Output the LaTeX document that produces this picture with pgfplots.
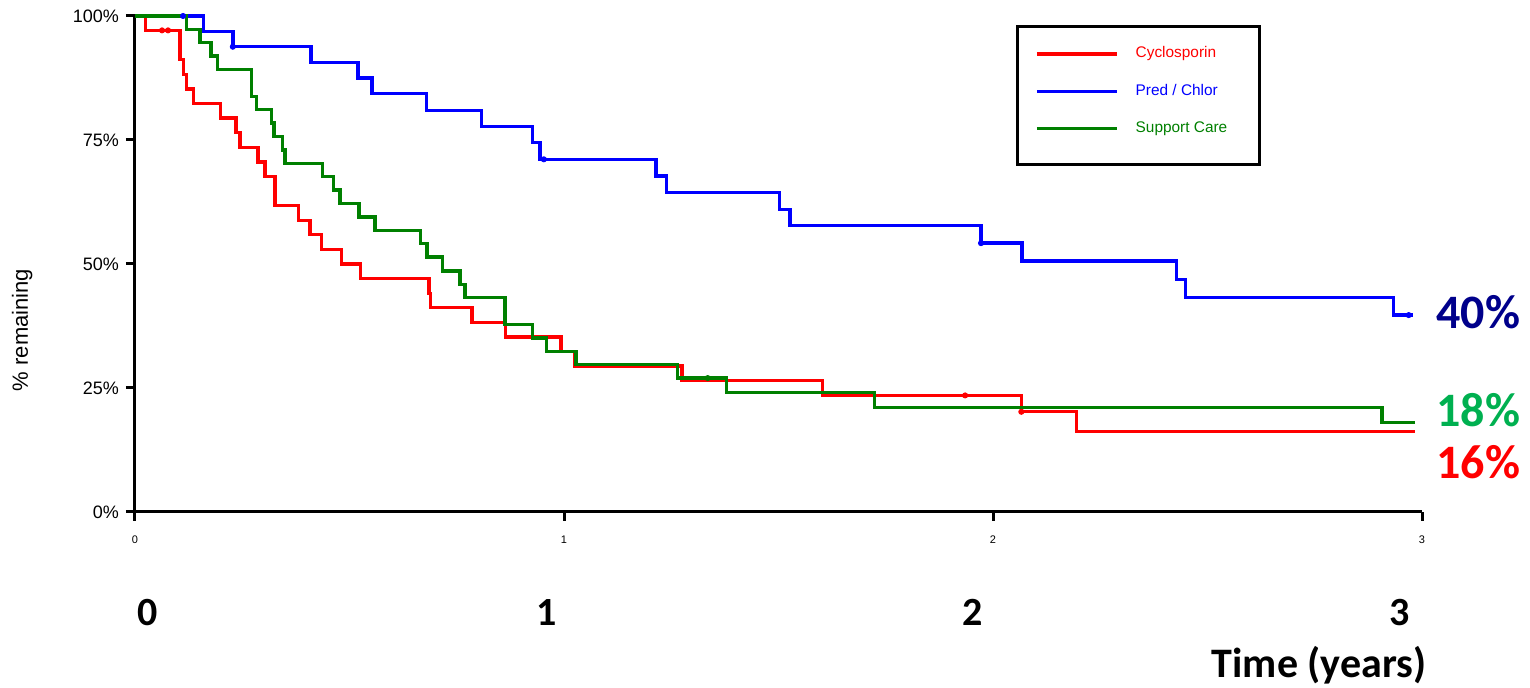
\documentclass[border=0pt]{standalone}
\usepackage{pgfplots}
\pgfplotsset{compat=1.18}
\usepackage{fontspec}
\setmainfont{Liberation Sans}
\newfontfamily\calibri{Carlito}
\definecolor{kmRed}{HTML}{FF0000}
\definecolor{kmBlue}{HTML}{0000FF}
\definecolor{kmGreen}{HTML}{008000}
\definecolor{lblBlue}{HTML}{00008B}
\definecolor{lblGreen}{HTML}{00B050}

\begin{document}
\begin{tikzpicture}
% page = 1530 x 688 px at 0.5pt per px
\useasboundingbox (-67.5pt,-88pt) rectangle (697.5pt,256pt);
\begin{axis}[
  at={(0pt,0pt)}, anchor=south west,
  scale only axis,
  width=643.5pt, height=248pt,
  xmin=0, xmax=3, ymin=0, ymax=100,
  clip=false,
  axis x line*=bottom, axis y line*=left,
  axis line style={line width=1.5pt, -},
  tick align=outside, tick pos=left,
  major tick length=4.5pt,
  tick style={line width=1.5pt, black},
  xtick={0,1,2,3}, xticklabels={0,1,2,3},
  ytick={0,25,50,75,100},
  yticklabels={0\%,25\%,50\%,75\%,100\%},
  /pgf/number format/assume math mode=true,
  yticklabel style={font=\fontsize{9}{10}\selectfont},
  xticklabel style={font=\fontsize{5.5}{6}\selectfont, yshift=-4pt},
  legend image code/.code={\draw[#1] (0pt,0pt) -- (40pt,0pt);},
  legend style={at={(axis cs:2.058,97.8)}, anchor=north west,
    draw=none, fill=none,
    inner xsep=8.5pt, inner ysep=9.5pt, row sep=11.25pt, column sep=8.5pt,
    font=\fontsize{7.7}{9}\selectfont,
    nodes={inner sep=0pt, text height=5.8pt, text depth=1.7pt},
    cells={anchor=west}},
]
% legend frame (taller at the bottom than the entries need)
\draw[line width=1.5pt, fill=white] (axis cs:2.058,97.8) rectangle (axis cs:2.622,69.96);
% Cyclosporin
\addplot[const plot, kmRed, line width=1.7pt] coordinates {
  (0,100) (0.025,97.1) (0.105,91.2) (0.113,88.2) (0.120,85.3) (0.136,82.4)
  (0.200,79.4) (0.235,76.5) (0.245,73.5) (0.287,70.6) (0.303,67.6)
  (0.326,61.8) (0.381,58.8) (0.408,55.9) (0.435,52.9) (0.482,50.0)
  (0.526,47.1) (0.685,44.1) (0.689,41.2) (0.786,38.2) (0.864,35.3)
  (0.993,32.4) (1.026,29.4) (1.275,26.5) (1.603,23.5) (2.066,20.2)
  (2.194,16.2) (2.984,16.2)};
\addlegendentry{\textcolor{kmRed}{Cyclosporin}}
% Pred / Chlor
\addplot[const plot, kmBlue, line width=1.7pt] coordinates {
  (0,100) (0.159,96.9) (0.228,93.8) (0.410,90.6) (0.520,87.5) (0.552,84.4)
  (0.680,81.0) (0.808,77.7) (0.927,74.5) (0.944,71.1) (1.214,67.7)
  (1.239,64.4) (1.503,61.0) (1.527,57.7) (1.972,54.2) (2.068,50.6)
  (2.428,46.9) (2.448,43.3) (2.933,39.7) (2.979,39.7)};
\addlegendentry{\textcolor{kmBlue}{Pred / Chlor}}
% Support Care
\addplot[const plot, kmGreen, line width=1.7pt] coordinates {
  (0,100) (0.1205,97.3) (0.1515,94.6) (0.1772,91.9) (0.1919,89.2)
  (0.272,83.8) (0.2836,81.1) (0.3186,78.4) (0.324,75.7) (0.3442,73.0)
  (0.3497,70.3) (0.4366,67.6) (0.4623,64.9) (0.4779,62.2) (0.5221,59.5)
  (0.5594,56.8) (0.6655,54.1) (0.6811,51.4) (0.7161,48.6) (0.7575,45.9)
  (0.7692,43.2) (0.8625,37.8) (0.9261,35.1) (0.9597,32.4) (1.028,29.7)
  (1.2642,27.0) (1.3793,24.1) (1.7233,21.1) (2.9068,18.1) (2.984,18.1)};
\addlegendentry{\textcolor{kmGreen}{Support Care}\hspace*{9.7pt}}
% censored observations
\addplot[only marks, mark=*, mark size=1.3pt, kmRed, forget plot] coordinates {
  (0.063,97.1) (0.077,97.1) (1.935,23.5) (2.066,20.2)};
\addplot[only marks, mark=*, mark size=1.3pt, kmBlue, forget plot] coordinates {
  (0.112,100) (0.228,93.8) (0.953,71.1) (1.972,54.2) (2.969,39.7)};
\addplot[only marks, mark=*, mark size=1.3pt, kmGreen, forget plot] coordinates {
  (1.335,27.0)};

% end-of-follow-up percentages
\node[font=\calibri\bfseries\fontsize{24}{28}\selectfont, text=lblBlue]
  at (axis cs:3.131,40.3) {40\%};
\node[font=\calibri\bfseries\fontsize{24}{28}\selectfont, text=lblGreen]
  at (axis cs:3.131,20.6) {18\%};
\node[font=\calibri\bfseries\fontsize{24}{28}\selectfont, text=kmRed]
  at (axis cs:3.131,10.1) {16\%};

% large axis annotations
\node[font=\calibri\bfseries\fontsize{20}{24}\selectfont]
  at (axis cs:0.030,-20.2) {0};
\node[font=\calibri\bfseries\fontsize{20}{24}\selectfont]
  at (axis cs:0.960,-20.2) {1};
\node[font=\calibri\bfseries\fontsize{20}{24}\selectfont]
  at (axis cs:1.953,-20.2) {2};
\node[font=\calibri\bfseries\fontsize{20}{24}\selectfont]
  at (axis cs:2.949,-20.2) {3};
\node[font=\calibri\bfseries\fontsize{21}{25}\selectfont]
  at (axis cs:2.760,-30.85) {Time (years)};
\node[rotate=90, font=\fontsize{11}{13}\selectfont]
  at (axis cs:-0.263,36.7) {\% remaining};
\end{axis}
\end{tikzpicture}
\end{document}
